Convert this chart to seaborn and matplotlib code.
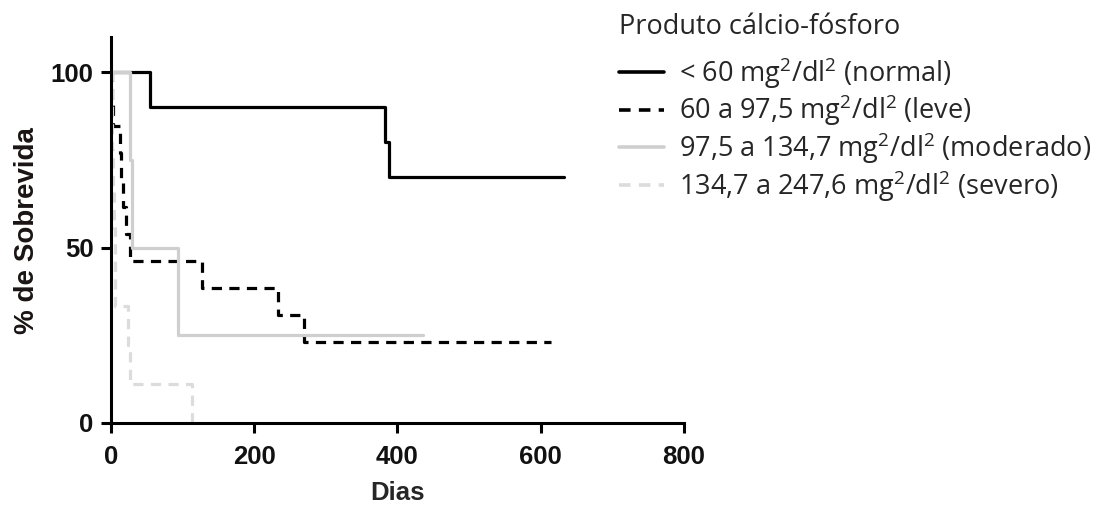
import numpy as np
import pandas as pd
import matplotlib
matplotlib.use("Agg")
import matplotlib.pyplot as plt
import seaborn as sns

# ---- data ----
groups = ["< 60 mg$^2$/dl$^2$ (normal)",
          "60 a 97,5 mg$^2$/dl$^2$ (leve)",
          "97,5 a 134,7 mg$^2$/dl$^2$ (moderado)",
          "134,7 a 247,6 mg$^2$/dl$^2$ (severo)"]

normal_t = [0, 55, 383, 388, 632]
normal_s = [100, 90, 80, 70, 70]

leve_t = [0, 2, 3, 12, 14, 17, 21, 27, 127, 233, 270, 615]
leve_s = [100, 92.3, 84.6, 76.9, 69.2, 61.5, 53.8, 46.2, 38.5, 30.8, 23.1, 23.1]

moderado_t = [0, 26, 30, 93, 436]
moderado_s = [100, 75, 50, 25, 25]

severo_t = [0, 1, 2, 3, 4, 5, 6, 24, 26, 113]
severo_s = [100, 88.9, 77.8, 66.7, 55.6, 44.4, 33.3, 22.2, 11.1, 0]

x_ticks = [0, 200, 400, 600, 800]
y_ticks = [0, 50, 100]

frames = []
for g, t, s in zip(groups, [normal_t, leve_t, moderado_t, severo_t],
                   [normal_s, leve_s, moderado_s, severo_s]):
    frames.append(pd.DataFrame({"Dias": t, "Sobrevida": s, "Grupo": g}))
df = pd.concat(frames, ignore_index=True)

palette = {groups[0]: "#000000", groups[1]: "#000000",
           groups[2]: "#cfcfcf", groups[3]: "#dcdcdc"}
dashes = {groups[0]: "", groups[1]: (3.2, 2.3), groups[2]: "", groups[3]: (3.2, 2.3)}

sns.set_style("white")
plt.rcParams["font.family"] = ["Liberation Sans", "DejaVu Sans"]
plt.rcParams["mathtext.fontset"] = "custom"
plt.rcParams["mathtext.rm"] = "Open Sans"
plt.rcParams["mathtext.it"] = "Open Sans"
plt.rcParams["mathtext.default"] = "rm"

fig = plt.figure(figsize=(11.14, 5.09), dpi=100)
ax = fig.add_axes([0.0996, 0.169, 0.5144, 0.758])

sns.lineplot(data=df, x="Dias", y="Sobrevida", hue="Grupo", style="Grupo",
             palette=palette, dashes=dashes, estimator=None, sort=False,
             drawstyle="steps-post", linewidth=2.3, ax=ax, legend=True)

ax.set_xlim(0, 800)
ax.set_ylim(0, 110)
ax.set_xticks(x_ticks)
ax.set_yticks(y_ticks)
for sp in ["top", "right"]:
    ax.spines[sp].set_visible(False)
for sp in ["left", "bottom"]:
    ax.spines[sp].set_linewidth(2.2)
    ax.spines[sp].set_color("black")
ax.tick_params(axis="both", which="major", bottom=True, left=True,
               direction="out", length=7.5, width=2.2, color="black",
               labelsize=18.5)
ax.tick_params(axis="x", pad=8)
ax.tick_params(axis="y", pad=5)
for lab in ax.get_xticklabels() + ax.get_yticklabels():
    lab.set_fontweight("bold")
    lab.set_color("#111111")
ax.set_xlabel("Dias", fontsize=18.5, fontweight="bold", labelpad=9)
ax.set_ylabel("% de Sobrevida", fontsize=20, fontweight="bold", labelpad=8, color="#1a1414")

handles, labels = ax.get_legend_handles_labels()
ax.get_legend().remove()
leg = fig.legend(handles, labels, loc="upper left", bbox_to_anchor=(0.556, 0.974),
                 frameon=False, title="Produto cálcio-fósforo",
                 prop={"family": "Open Sans", "size": 19.5},
                 title_fontproperties={"family": "Open Sans", "size": 19.5},
                 alignment="left", handlelength=1.65, handletextpad=0.55,
                 labelspacing=0.08, borderaxespad=0, borderpad=0)
leg._legend_box.sep = 10
for h in leg.get_lines():
    h.set_linewidth(2.6)

fig.savefig("out.png", dpi=100)
